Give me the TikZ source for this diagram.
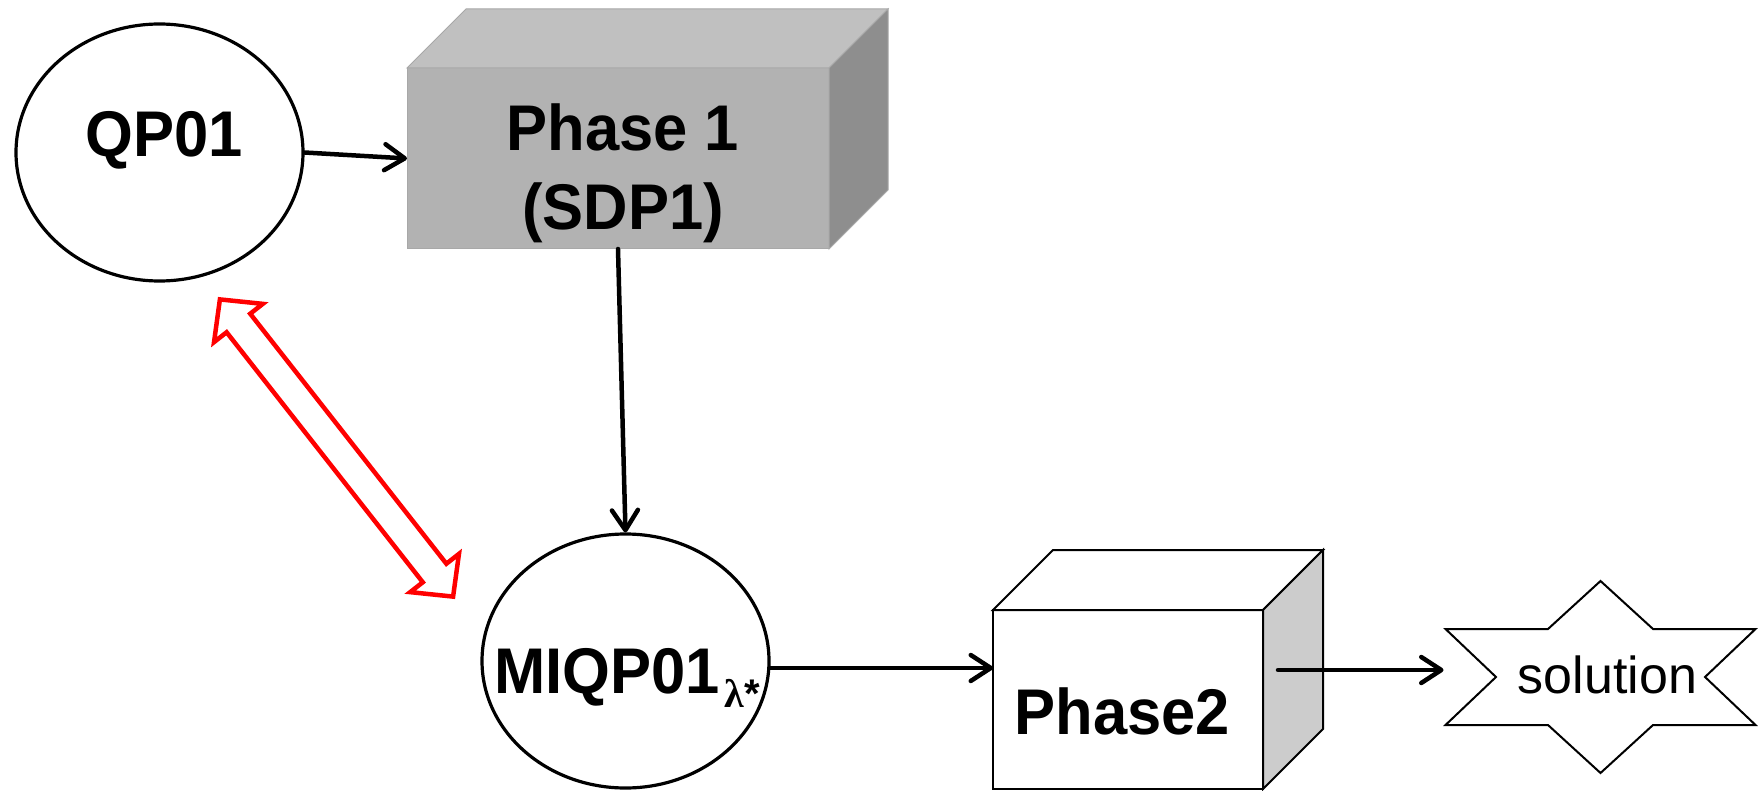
\documentclass[tikz,border=0pt]{standalone}
\usepackage{fontspec}
\setmainfont{Liberation Sans}
\newfontfamily\greekserif{Liberation Serif}
\usetikzlibrary{arrows.meta,calc,shapes.geometric}
\definecolor{boxfront}{HTML}{B2B2B2}
\definecolor{boxtop}{HTML}{C0C0C0}
\definecolor{boxside}{HTML}{8E8E8E}
\definecolor{boxedge}{HTML}{A8A8A8}
\definecolor{sidelight}{HTML}{CCCCCC}
\newcommand{\tall}[1]{\scalebox{1}[1.05]{#1}}
\begin{document}
\begin{tikzpicture}[x=1pt,y=-1pt,
  bigtext/.style={font=\fontsize{61.5}{75}\selectfont\bfseries, inner sep=0pt},
  oval/.style={ellipse, draw, line width=3.2pt, fill=white, inner sep=0pt},
  frontface/.style={rectangle, inner sep=0pt, outer sep=0pt},
  greyface/.style={draw=boxedge, line width=1pt, line join=miter},
  whiteface/.style={draw, line width=2pt, fill=white, line join=miter},
  flow/.style={line width=4.5pt, line cap=round,
    -{Straight Barb[length=20pt,width=26pt,round]}},
  twoway/.style={draw=red, line width=4.5pt, fill=white, line join=miter}]

\fill[white] (0,0) rectangle (1758,791);
\useasboundingbox (0,0) rectangle (1758,791);

% input problem
\node[oval, minimum width=287pt, minimum height=257pt] (qp) at (159.5,152.5) {};
\node[bigtext, anchor=base] (qpt) at (164.5,157) {\tall{QP01}};

% phase 1 block (grey solid box)
\node[frontface, fill=boxfront, greyface, minimum width=422pt, minimum height=181pt] (p1) at (618,158.5) {};
\filldraw[boxtop, greyface] (p1.north west) -- ($(p1.north west)+(59,-59)$) -- ($(p1.north east)+(59,-59)$) -- (p1.north east) -- cycle;
\filldraw[boxside, greyface] (p1.north east) -- ($(p1.north east)+(59,-59)$) -- ($(p1.south east)+(59,-59)$) -- (p1.south east) -- cycle;
\node[bigtext, anchor=base] (p1t) at (623,151) {\tall{\begin{tabular}[t]{@{}c@{}}Phase 1\\(SDP1)\end{tabular}}};

% relaxed problem
\node[oval, minimum width=287pt, minimum height=254pt] (mq) at (625.5,661) {};
\node[bigtext, anchor=base west] (mqt) at (494,693) {\tall{MIQP01}\kern5pt\raisebox{-14pt}{\fontsize{40}{40}\selectfont{\greekserif λ}\kern0.5pt*}};

% phase 2 block (white box)
\node[frontface, draw, line width=2pt, fill=white, minimum width=270pt, minimum height=179pt] (p2) at (1128,699.5) {};
\draw[whiteface] (p2.north west) -- ($(p2.north west)+(60,-60)$) -- ($(p2.north east)+(60,-60)$) -- (p2.north east) -- cycle;
\draw[whiteface, fill=sidelight] (p2.north east) -- ($(p2.north east)+(60,-60)$) -- ($(p2.south east)+(60,-60)$) -- (p2.south east) -- cycle;
\node[bigtext, anchor=base] (p2t) at (1122.5,734) {\tall{Phase2}};

% result star
\coordinate (sc) at (1600.5,677);
\draw[whiteface] ($(sc)+(0,-96)$) -- ($(sc)+(52.5,-48)$) -- ($(sc)+(155,-48)$) -- ($(sc)+(104.5,0)$)
  -- ($(sc)+(155,48)$) -- ($(sc)+(52.5,48)$) -- ($(sc)+(0,96)$) -- ($(sc)+(-52.5,48)$)
  -- ($(sc)+(-155,48)$) -- ($(sc)+(-104.5,0)$) -- ($(sc)+(-155,-48)$) -- ($(sc)+(-52.5,-48)$) -- cycle;
\node[font=\fontsize{52}{60}\selectfont, anchor=base, inner sep=0pt] (sol) at (1607.5,693) {solution};

% connectors
\draw[flow] (qp.east) -- (p1.west);
\draw[flow] (p1.south) -- (mq.north);
\coordinate (m2) at ($(mq.east)+(0,7)$);
\draw[flow] (m2) -- (m2 -| p2.west);
\coordinate (p2o) at ($(p2.east)+(15,-29.5)$);
\coordinate (sl) at ($(sc)+(-157,0)$);
\draw[flow] (p2o) -- (p2o -| sl);

% equivalence between the two problems (hollow double arrow)
\coordinate (ra) at (219.9,299.4);
\coordinate (rb) at (453.1,596.6);
\coordinate (ma) at ($(ra)!30pt!(rb)$);
\coordinate (mb) at ($(rb)!30pt!(ra)$);
\draw[twoway] (ra) -- ($(ma)!31pt!90:(rb)$) -- ($(ma)!15pt!90:(rb)$) -- ($(mb)!15pt!90:(rb)$)
  -- ($(mb)!31pt!90:(rb)$) -- (rb) -- ($(mb)!31pt!-90:(rb)$) -- ($(mb)!15pt!-90:(rb)$)
  -- ($(ma)!15pt!-90:(rb)$) -- ($(ma)!31pt!-90:(rb)$) -- cycle;

\end{tikzpicture}
\end{document}
